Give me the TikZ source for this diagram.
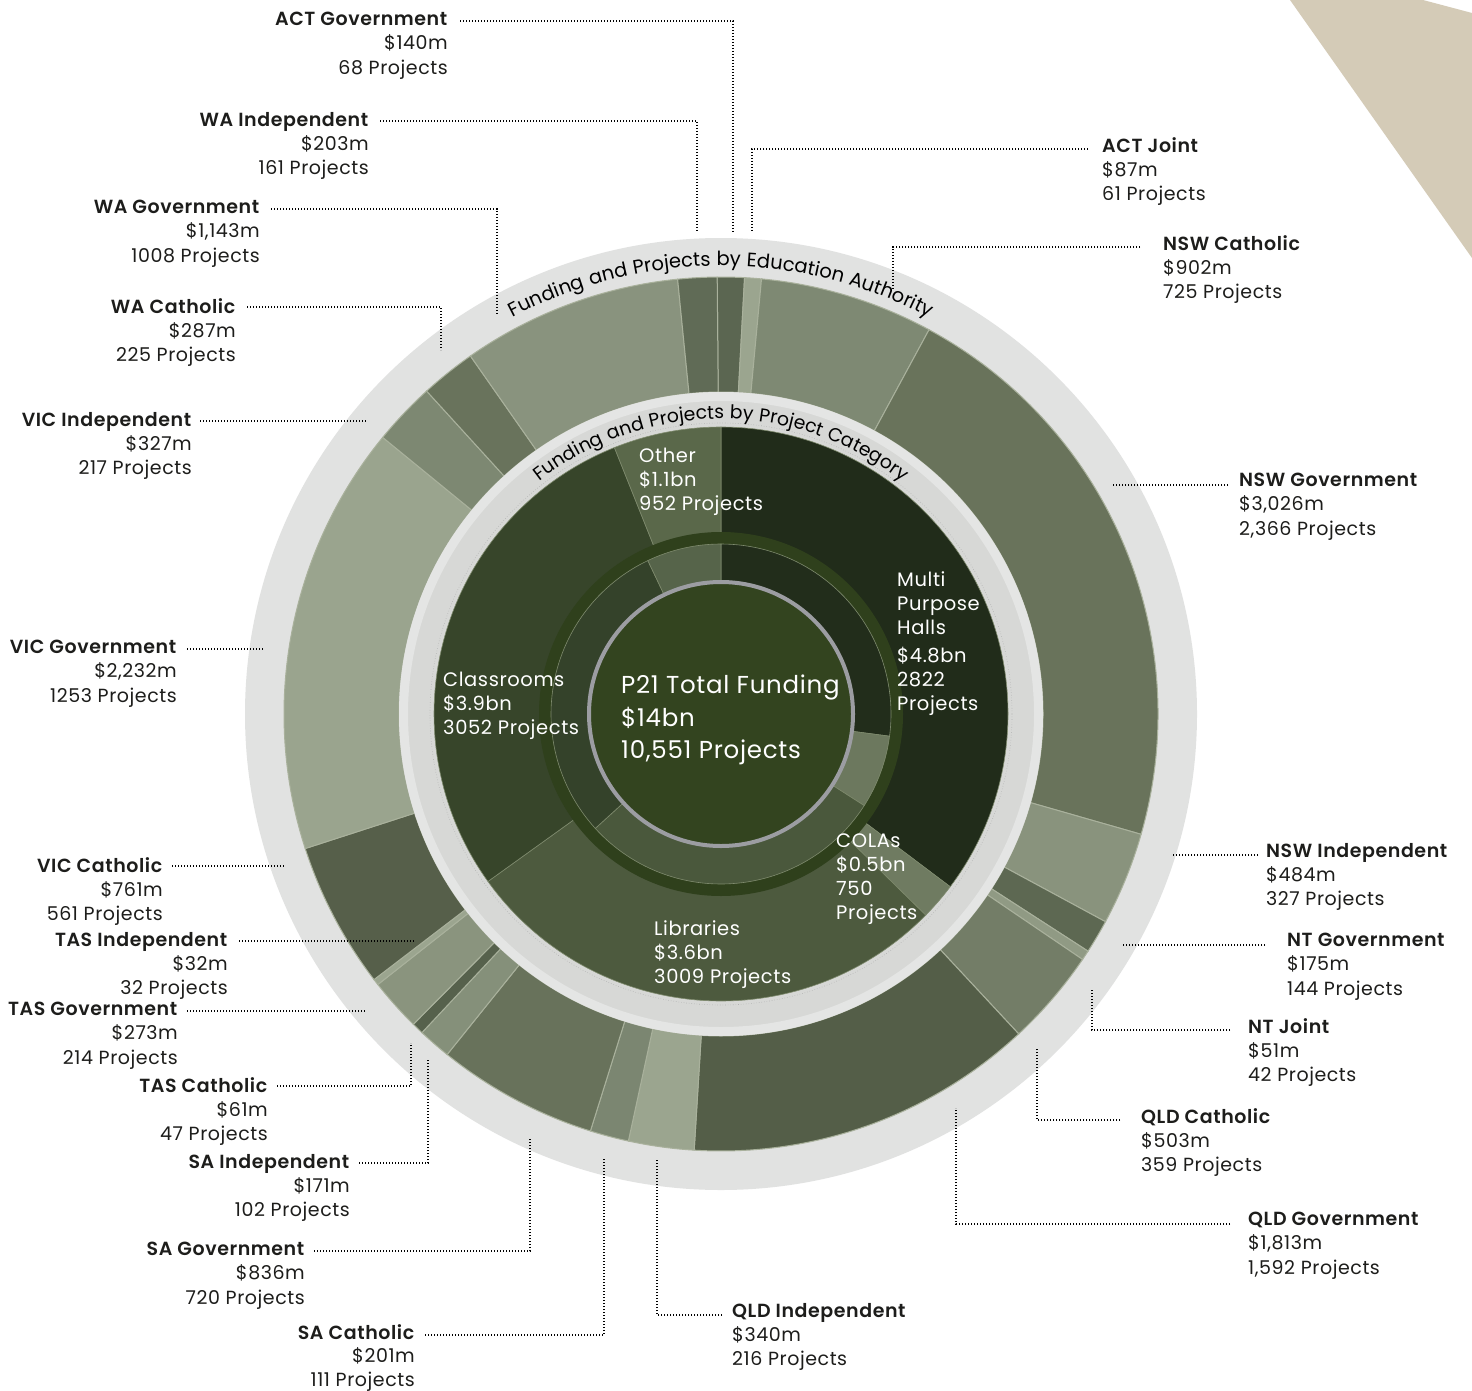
\documentclass[tikz,border=0pt]{standalone}
\usepackage{fontspec}
\setmainfont{Poppins}[LetterSpace=3,BoldFont={Poppins SemiBold}]
\usetikzlibrary{decorations.text,calc}
\definecolor{beige}{HTML}{D4CBB7}
\definecolor{outerring}{HTML}{E1E2E1}
\definecolor{labelring}{HTML}{D7D8D6}
\definecolor{labelringedge}{HTML}{E4E5E4}
\definecolor{segedge}{HTML}{A9B19C}
\definecolor{catedge}{HTML}{7F8B6E}
\definecolor{labelink}{HTML}{1D1D1B}
\definecolor{cActG}{HTML}{5B6651}
\definecolor{cActJ}{HTML}{9BA58F}
\definecolor{cNswC}{HTML}{7E8973}
\definecolor{cNswG}{HTML}{69735B}
\definecolor{cNswI}{HTML}{89937D}
\definecolor{cNtG}{HTML}{5D6852}
\definecolor{cNtJ}{HTML}{909A84}
\definecolor{cQldC}{HTML}{737D67}
\definecolor{cQldG}{HTML}{545E48}
\definecolor{cQldI}{HTML}{9BA58F}
\definecolor{cSaC}{HTML}{7B8671}
\definecolor{cSaG}{HTML}{68725B}
\definecolor{cSaI}{HTML}{85907A}
\definecolor{cTasC}{HTML}{56614C}
\definecolor{cTasG}{HTML}{8A947E}
\definecolor{cTasI}{HTML}{9BA58F}
\definecolor{cVicC}{HTML}{565F4A}
\definecolor{cVicG}{HTML}{9AA48E}
\definecolor{cVicI}{HTML}{7D8872}
\definecolor{cWaC}{HTML}{69735C}
\definecolor{cWaG}{HTML}{89937E}
\definecolor{cWaI}{HTML}{606B56}
\definecolor{cMph}{HTML}{212C1A}
\definecolor{cCol}{HTML}{6F7B61}
\definecolor{cLib}{HTML}{4D5A3E}
\definecolor{cCls}{HTML}{37452A}
\definecolor{cOth}{HTML}{5A684A}
\definecolor{sMph}{HTML}{222D1B}
\definecolor{sCol}{HTML}{6C785E}
\definecolor{sLib}{HTML}{4A583C}
\definecolor{sCls}{HTML}{34422A}
\definecolor{sOth}{HTML}{56644A}
\definecolor{greenring}{HTML}{2F401C}
\definecolor{centerfill}{HTML}{33441F}
\definecolor{centerrim}{HTML}{9C9DA2}
\newcommand\ringseg[5]{\filldraw[#5] (#3:#2) arc[start angle=#3,end angle=#4,radius=#2] -- (#4:#1) arc[start angle=#4,end angle=#3,radius=#1] -- cycle;}
\begin{document}
\begin{tikzpicture}[x=1pt,y=-1pt,
  lblbase/.style={inner sep=0pt,text=labelink,font=\fontsize{19}{24.3}\selectfont},
  lblL/.style={lblbase,anchor=north east,align=right},
  lblR/.style={lblbase,anchor=north west,align=left},
  inlbl/.style={inner sep=0pt,anchor=north west,align=left,text=white,font=\fontsize{19.5}{24}\selectfont},
  centerlbl/.style={inner sep=0pt,anchor=north west,align=left,text=white,font=\fontsize{24.5}{32.5}\selectfont},
  leaderline/.style={draw=black,line width=1.4pt,dash pattern=on 1.4pt off 1.6pt},
  outseg/.style={draw=segedge,line width=1pt},
  catseg/.style={draw=catedge,line width=0.6pt}]
\useasboundingbox (0,0) rectangle (1472,1391);
\fill[white] (0,0) rectangle (1472,1391);
\fill[beige] (1290,0) -- (1423,0) -- (1472,13) -- (1472,258) -- cycle;
\begin{scope}[shift={(721,714)}]
  \fill[outerring] (0,0) circle[radius=476];
  \foreach \a/\b/\c in {-90.5/-86.91/cActG, -86.91/-84.68/cActJ, -84.68/-61.57/cNswC, -61.57/15.98/cNswG, 15.98/28.38/cNswI, 28.38/32.87/cNtG, 32.87/34.17/cNtJ, 34.17/47.06/cQldC, 47.06/93.52/cQldG, 93.52/102.24/cQldI, 102.24/107.39/cSaC, 107.39/128.81/cSaG, 128.81/133.19/cSaI, 133.19/134.76/cTasC, 134.76/141.75/cTasG, 141.75/142.57/cTasI, 142.57/162.07/cVicC, 162.07/219.27/cVicG, 219.27/227.65/cVicI, 227.65/235.01/cWaC, 235.01/264.30/cWaG, 264.30/269.5/cWaI}
    {\ringseg{322}{437}{\a}{\b}{outseg,fill=\c}}
  \fill[labelring] (0,0) circle[radius=322];
  \fill[labelringedge,even odd rule] (0,0) circle[radius=322] circle[radius=313];
  \draw[black!30,line width=0.6pt,dotted] (0,0) circle[radius=291];
  \foreach \a/\b/\c in {-90/37/cMph, 37/44.5/cCol, 44.5/144.3/cLib, 144.3/248.2/cCls, 248.2/270/cOth}
    {\ringseg{0}{287}{\a}{\b}{catseg,fill=\c}}
  \fill[greenring] (0,0) circle[radius=182];
  \foreach \a/\b/\c in {-90/7.5/sMph, 7.5/32.6/sCol, 32.6/137.7/sLib, 137.7/244.5/sCls, 244.5/270/sOth}
    {\ringseg{0}{170}{\a}{\b}{catseg,fill=\c}}
  \filldraw[fill=centerfill,draw=centerrim,line width=4pt] (0,0) circle[radius=132];
  \path[decorate,decoration={text along path,text align=center,
    text={|\fontsize{19.5}{21}\selectfont|Funding and Projects by Education Authority}}]
    (-150:448) arc[start angle=-150,end angle=-30,radius=448];
  \path[decorate,decoration={text along path,text align=center,
    text={|\fontsize{18.8}{20}\selectfont|Funding and Projects by Project Category}}]
    (-160:295) arc[start angle=-160,end angle=-20,radius=295];
\end{scope}
% inner labels
\node[inlbl] (oth) at (639,448) {Other\\ \$1.1bn\\ 952 Projects};
\node[inlbl] (mph) at (897,571) {Multi\\ Purpose\\ Halls\\[4pt] \$4.8bn\\ 2822\\ Projects};
\node[inlbl] (cls) at (443,672) {Classrooms\\ \$3.9bn\\ 3052 Projects};
\node[inlbl] (lib) at (654,920) {Libraries\\ \$3.6bn\\ 3009 Projects};
\node[inlbl] (col) at (836,834) {COLAs\\ \$0.5bn\\ 750\\ Projects};
\node[centerlbl] (tot) at (621,675) {P21 Total Funding\\ \$14bn\\ 10,551 Projects};
% left labels
\node[lblL] (actg) at (448,12) {\textbf{ACT Government}\\ \$140m\\ 68 Projects};
\node[lblL] (wai) at (369,112) {\textbf{WA Independent}\\ \$203m\\ 161 Projects};
\node[lblL] (wag) at (260,200) {\textbf{WA Government}\\ \$1,143m\\ 1008 Projects};
\node[lblL] (wac) at (236,298) {\textbf{WA Catholic}\\ \$287m\\ 225 Projects};
\node[lblL] (vici) at (192,412) {\textbf{VIC Independent}\\ \$327m\\ 217 Projects};
\node[lblL] (vicg) at (177,640) {\textbf{VIC Government}\\ \$2,232m\\ 1253 Projects};
\node[lblL] (vicc) at (163,857) {\textbf{VIC Catholic}\\ \$761m\\ 561 Projects};
\node[lblL] (tasi) at (228,932) {\textbf{TAS Independent}\\ \$32m\\ 32 Projects};
\node[lblL] (tasg) at (178,1002) {\textbf{TAS Government}\\ \$273m\\ 214 Projects};
\node[lblL] (tasc) at (268,1077) {\textbf{TAS Catholic}\\ \$61m\\ 47 Projects};
\node[lblL] (sai) at (350,1154) {\textbf{SA Independent}\\ \$171m\\ 102 Projects};
\node[lblL] (sag) at (305,1242) {\textbf{SA Government}\\ \$836m\\ 720 Projects};
\node[lblL,font=\fontsize{19}{23.5}\selectfont] (sac) at (415,1324) {\textbf{SA Catholic}\\ \$201m\\ 111 Projects};
% right labels
\node[lblR] (actj) at (1102,137) {\textbf{ACT Joint}\\ \$87m\\ 61 Projects};
\node[lblR] (nswc) at (1163,235) {\textbf{NSW Catholic}\\ \$902m\\ 725 Projects};
\node[lblR] (nswg) at (1239,473) {\textbf{NSW Government}\\ \$3,026m\\ 2,366 Projects};
\node[lblR] (nswi) at (1266,843) {\textbf{NSW Independent}\\ \$484m\\ 327 Projects};
\node[lblR] (ntg) at (1287,933) {\textbf{NT Government}\\ \$175m\\ 144 Projects};
\node[lblR] (ntj) at (1248,1018) {\textbf{NT Joint}\\ \$51m\\ 42 Projects};
\node[lblR] (qldc) at (1141,1108) {\textbf{QLD Catholic}\\ \$503m\\ 359 Projects};
\node[lblR] (qldg) at (1248,1212) {\textbf{QLD Government}\\ \$1,813m\\ 1,592 Projects};
\node[lblR] (qldi) at (732,1303) {\textbf{QLD Independent}\\ \$340m\\ 216 Projects};
% leader start points
\coordinate (actgS) at ($(actg.north east)+(12,9)$);
\coordinate (waiS) at ($(wai.north east)+(11,9)$);
\coordinate (wagS) at ($(wag.north east)+(11,9)$);
\coordinate (wacS) at ($(wac.north east)+(11,9)$);
\coordinate (viciS) at ($(vici.north east)+(8,9)$);
\coordinate (vicgS) at ($(vicg.north east)+(10,9)$);
\coordinate (viccS) at ($(vicc.north east)+(9,9)$);
\coordinate (tasiS) at ($(tasi.north east)+(11,9)$);
\coordinate (tasgS) at ($(tasg.north east)+(9,9)$);
\coordinate (tascS) at ($(tasc.north east)+(9,9)$);
\coordinate (saiS) at ($(sai.north east)+(9,9)$);
\coordinate (sagS) at ($(sag.north east)+(9,9)$);
\coordinate (sacS) at ($(sac.north east)+(10,11)$);
\coordinate (actjS) at ($(actj.north west)+(-14,12)$);
\coordinate (nswcS) at ($(nswc.north west)+(-23,12)$);
\coordinate (nswgS) at ($(nswg.north west)+(-11,12)$);
\coordinate (nswiS) at ($(nswi.north west)+(-8,12)$);
\coordinate (ntgS) at ($(ntg.north west)+(-22,12)$);
\coordinate (ntjS) at ($(ntj.north west)+(-18,12)$);
\coordinate (qldcS) at ($(qldc.north west)+(-21,12)$);
\coordinate (qldgS) at ($(qldg.north west)+(-18,12)$);
\coordinate (qldiS) at ($(qldi.north west)+(-10,12)$);
% leader ends on the ring
\coordinate (actgE) at (733,232);
\coordinate (waiE) at (697,232);
\coordinate (wagE) at (497,315);
\coordinate (wacE) at (441,350);
\coordinate (viciE) at (366,422);
\coordinate (vicgE) at (263,650);
\coordinate (viccE) at (285,867);
\coordinate (tasiE) at (415,942);
\coordinate (tasgE) at (366,1010);
\coordinate (tascE) at (411,1043);
\coordinate (saiE) at (428,1060);
\coordinate (sagE) at (530,1138);
\coordinate (sacE) at (604,1158);
\coordinate (actjE) at (752,232);
\coordinate (nswcE) at (893,290);
\coordinate (nswgE) at (1113,485);
\coordinate (nswiE) at (1172,856);
\coordinate (ntgE) at (1122,946);
\coordinate (ntjE) at (1092,990);
\coordinate (qldcE) at (1037,1048);
\coordinate (qldgE) at (956,1108);
\coordinate (qldiE) at (657,1160);
% bent leaders
\foreach \n in {actg,wai,wag,wac,tasc,sai,sag,sac,actj,nswc,ntj,qldc,qldg,qldi}
  {\draw[leaderline] (\n S) -| (\n E);}
% straight leaders
\foreach \n in {vici,vicg,vicc,tasi,tasg,nswg,nswi,ntg}
  {\draw[leaderline] (\n S) -- (\n S -| \n E);}
\end{tikzpicture}
\end{document}
